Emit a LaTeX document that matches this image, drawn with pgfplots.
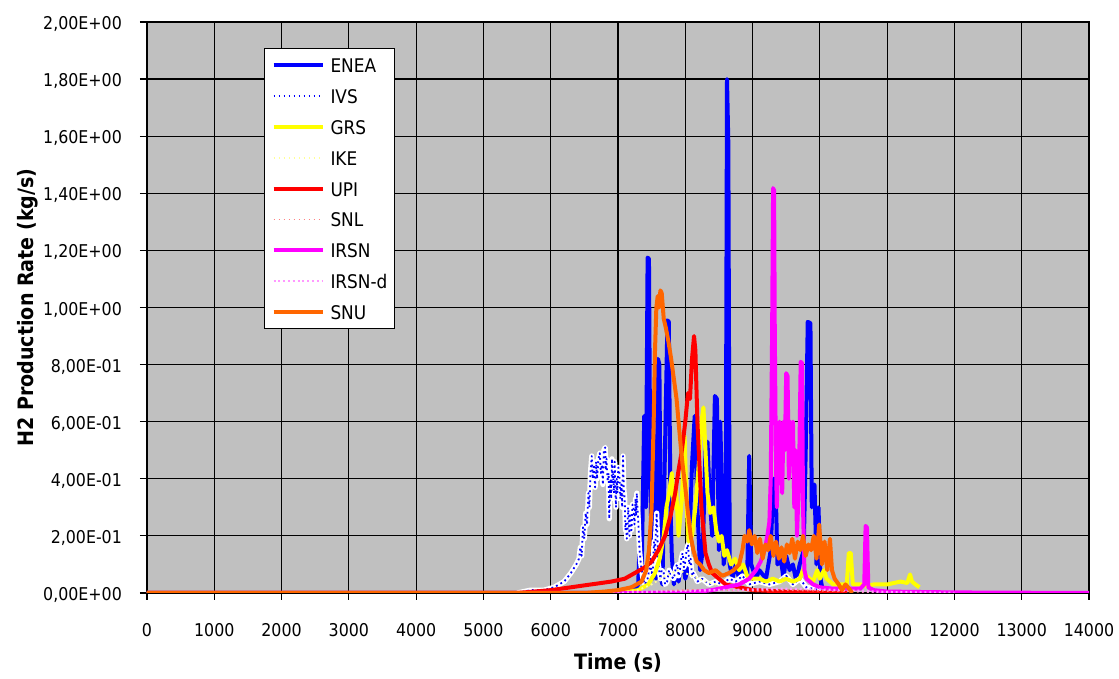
\documentclass[border=0pt]{standalone}
\usepackage{fontspec}
\setmainfont{DejaVu Sans Condensed}[BoldFont={DejaVu Sans Condensed Bold}]
\usepackage{pgfplots}
\pgfplotsset{compat=1.18}
\definecolor{plotbg}{RGB}{192,192,192}
\definecolor{cENEA}{RGB}{0,0,255}
\definecolor{cGRS}{RGB}{255,255,0}
\definecolor{cIKE}{RGB}{255,255,153}
\definecolor{cUPI}{RGB}{255,0,0}
\definecolor{cSNL}{RGB}{255,128,128}
\definecolor{cIRSN}{RGB}{255,0,255}
\definecolor{cIRSNd}{RGB}{255,153,255}
\definecolor{cSNU}{RGB}{255,102,0}
\pgfplotstableread{
t v
5500 0
5700 0.01
5900 0.01
6050 0.02
6200 0.04
6300 0.07
6380 0.1
6420 0.12
6440 0.16
6460 0.13
6480 0.23
6500 0.19
6520 0.28
6540 0.24
6560 0.35
6575 0.3
6590 0.42
6610 0.48
6625 0.4
6640 0.45
6660 0.37
6675 0.46
6690 0.4
6710 0.47
6730 0.49
6745 0.42
6760 0.45
6775 0.38
6790 0.5
6810 0.51
6820 0.43
6830 0.47
6845 0.39
6860 0.42
6870 0.26
6880 0.35
6890 0.4
6900 0.33
6910 0.47
6920 0.38
6930 0.42
6940 0.35
6950 0.46
6960 0.37
6970 0.3
6980 0.4
6990 0.35
7005 0.44
7020 0.42
7035 0.33
7050 0.38
7062 0.3
7075 0.48
7088 0.36
7100 0.33
7110 0.22
7120 0.25
7130 0.19
7140 0.2
7150 0.3
7160 0.27
7170 0.2
7180 0.28
7190 0.24
7200 0.22
7215 0.31
7230 0.3
7245 0.24
7260 0.33
7270 0.27
7280 0.35
7290 0.29
7300 0.26
7310 0.2
7320 0.15
7340 0.1
7370 0.05
7400 0.03
7440 0.05
7470 0.09
7480 0.12
7500 0.07
7520 0.08
7535 0.18
7550 0.15
7575 0.28
7590 0.17
7600 0.1
7630 0.05
7650 0.08
7680 0.07
7700 0.03
7730 0.04
7760 0.08
7780 0.06
7830 0.05
7860 0.09
7880 0.1
7900 0.06
7920 0.08
7940 0.12
7960 0.14
7980 0.09
8000 0.11
8020 0.15
8040 0.17
8060 0.1
8080 0.12
8100 0.06
8120 0.07
8180 0.04
8250 0.05
8350 0.03
8450 0.04
8550 0.03
8650 0.05
8750 0.04
8850 0.06
8950 0.03
9100 0.04
9250 0.03
9400 0.04
9500 0.06
9600 0.03
9700 0.05
9800 0.02
10000 0.01
10200 0
}\tblIVS
\begin{document}
\begin{tikzpicture}
\useasboundingbox (-73.5pt,-43pt) rectangle (486pt,296.5pt);
\begin{axis}[
  scale only axis, width=471pt, height=285.5pt,
  xmin=0, xmax=14000, ymin=0, ymax=2,
  axis background/.style={fill=plotbg},
  xtick={0,1000,...,14000},
  xticklabels={0,1000,2000,3000,4000,5000,6000,7000,8000,9000,10000,11000,12000,13000,14000},
  ytick={0,0.2,0.4,0.6,0.8,1.0,1.2,1.4,1.6,1.8,2.0},
  yticklabels={{0,00E+00},{2,00E-01},{4,00E-01},{6,00E-01},{8,00E-01},{1,00E+00},{1,20E+00},{1,40E+00},{1,60E+00},{1,80E+00},{2,00E+00}},
  tick pos=left, tick align=outside, major tick length=3.5pt,
  tick style={black, line width=0.6pt},
  grid=major, major grid style={black, line width=0.6pt},
  axis line style={black, line width=0.6pt},
  tick label style={font=\fontsize{8.8pt}{10.5pt}\selectfont},
  xticklabel style={anchor=base, inner sep=0pt, yshift=-18.25pt},
  yticklabel style={anchor=east, inner sep=0pt, xshift=-8.85pt, yshift=-1pt},
  xlabel={Time (s)}, ylabel={H2 Production Rate (kg/s)},
  label style={font=\bfseries\fontsize{10.6pt}{12pt}\selectfont},
  xlabel style={at={(axis description cs:0.5,-0.1226)}, anchor=center},
  ylabel style={at={(axis description cs:-0.1263,0.5)}, anchor=center, rotate=0},
  legend style={at={(0.1242,0.9545)}, anchor=north west, draw=black, line width=0.5pt, fill=white,
    font=\fontsize{9.4pt}{11pt}\selectfont, inner xsep=3.5pt, inner ysep=4.75pt,
    row sep=7.9pt,
    nodes={inner sep=0pt, text height=7.5pt, text depth=0pt},
    /tikz/every odd column/.append style={column sep=3pt}},
  legend cell align=left,
  legend image code/.code={\draw[#1, line cap=butt] (0pt,0pt) -- (24.5pt,0pt);},
  every axis plot/.append style={line join=round},
]
% ENEA
\addplot[cENEA, line width=2pt] coordinates {
(0,0) (7000,0) (7250,0.01) (7300,0.03) (7330,0.23) (7350,0.05) (7390,0.62) (7415,0.3) (7440,1.175) (7460,1.17) (7480,0.4) (7500,0.15) (7520,0.05) (7545,0.55) (7565,0.05) (7595,0.82) (7615,0.8) (7640,0.05) (7660,0.03) (7735,0.955) (7755,0.95) (7780,0.3) (7800,0.13) (7830,0.03) (7870,0.1) (7900,0.04) (7950,0.12) (8000,0.05) (8050,0.1) (8100,0.45) (8140,0.62) (8180,0.3) (8220,0.08) (8260,0.15) (8300,0.5) (8330,0.53) (8360,0.35) (8400,0.2) (8440,0.69) (8470,0.68) (8500,0.15) (8520,0.6) (8550,0.3) (8570,0.1) (8600,0.15) (8620,1.8) (8640,1.57) (8660,0.1) (8700,0.05) (8750,0.1) (8800,0.05) (8850,0.08) (8920,0.05) (8950,0.48) (8980,0.1) (9050,0.05) (9100,0.08) (9200,0.05) (9270,0.15) (9310,0.4) (9340,0.4) (9370,0.1) (9420,0.12) (9460,0.05) (9500,0.13) (9550,0.08) (9600,0.1) (9650,0.04) (9700,0.1) (9760,0.15) (9790,0.5) (9820,0.95) (9860,0.945) (9880,0.3) (9920,0.38) (9950,0.1) (9980,0.3) (10010,0.05) (10050,0) (10100,0)
};
\addlegendentry{ENEA}
% IVS white underlay
\addplot[white, line width=2.6pt, forget plot] table[x=t, y=v] {\tblIVS};
% IVS
\addplot[cENEA, line width=0.9pt, dash pattern=on 0.9pt off 1.6pt] table[x=t, y=v] {\tblIVS};
\addlegendentry{IVS}
% GRS
\addplot[cGRS, line width=2pt] coordinates {
(0,0) (7000,0) (7300,0.01) (7450,0.03) (7550,0.07) (7620,0.12) (7680,0.2) (7720,0.3) (7760,0.35) (7800,0.42) (7830,0.3) (7860,0.38) (7900,0.2) (7950,0.33) (7990,0.55) (8020,0.3) (8050,0.18) (8100,0.2) (8150,0.3) (8200,0.45) (8240,0.6) (8270,0.65) (8300,0.5) (8330,0.35) (8370,0.28) (8420,0.3) (8460,0.22) (8500,0.18) (8540,0.2) (8580,0.13) (8620,0.15) (8680,0.1) (8740,0.12) (8800,0.08) (8860,0.1) (8920,0.06) (9000,0.05) (9100,0.05) (9200,0.04) (9300,0.05) (9400,0.04) (9500,0.05) (9600,0.04) (9700,0.05) (9750,0.08) (9800,0.06) (9850,0.05) (9900,0.04) (9960,0.08) (10000,0.05) (10060,0.08) (10100,0.05) (10200,0.03) (10300,0.03) (10400,0.03) (10430,0.14) (10460,0.14) (10490,0.03) (10600,0.03) (10700,0.025) (10800,0.03) (10900,0.03) (11000,0.03) (11100,0.035) (11200,0.04) (11300,0.035) (11340,0.065) (11370,0.04) (11420,0.03) (11480,0.02)
};
\addlegendentry{GRS}
% IKE
\addplot[cIKE, line width=0.9pt, dash pattern=on 0.9pt off 1.6pt] coordinates {
(0,0) (7000,0) (7300,0.01) (7500,0.03) (7700,0.06) (7900,0.08) (8100,0.06) (8300,0.04) (8600,0.02) (9000,0.01) (9500,0.005) (10000,0)
};
\addlegendentry{IKE}
% UPI
\addplot[cUPI, line width=2pt] coordinates {
(0,0) (5500,0) (6000,0.01) (6300,0.02) (6600,0.03) (6900,0.04) (7100,0.05) (7250,0.07) (7400,0.09) (7500,0.11) (7600,0.15) (7700,0.2) (7780,0.27) (7850,0.35) (7900,0.43) (7950,0.5) (8000,0.6) (8040,0.7) (8070,0.68) (8100,0.82) (8130,0.9) (8150,0.85) (8180,0.6) (8210,0.45) (8240,0.3) (8270,0.22) (8300,0.14) (8350,0.1) (8400,0.07) (8500,0.05) (8600,0.03) (8800,0.02) (9000,0.01) (9500,0.005) (10000,0.003) (10400,0)
};
\addlegendentry{UPI}
% SNL
\addplot[cSNL, line width=0.9pt, dash pattern=on 0.9pt off 1.6pt] coordinates {
(0,0) (7000,0) (7500,0.005) (8000,0.01) (8500,0.01) (9000,0.008) (9500,0.01) (10000,0.008) (10500,0.005) (11000,0)
};
\addlegendentry{SNL}
% IRSN
\addplot[cIRSN, line width=2pt] coordinates {
(0,0) (8000,0) (8400,0.01) (8600,0.02) (8800,0.03) (8950,0.05) (9050,0.08) (9120,0.11) (9180,0.15) (9220,0.2) (9250,0.25) (9270,0.4) (9290,0.9) (9305,1.418) (9320,1.41) (9330,0.92) (9345,0.5) (9360,0.3) (9380,0.45) (9400,0.6) (9420,0.55) (9440,0.35) (9460,0.6) (9480,0.5) (9500,0.77) (9520,0.76) (9540,0.4) (9560,0.6) (9580,0.45) (9600,0.6) (9620,0.3) (9640,0.5) (9660,0.2) (9690,0.4) (9715,0.81) (9735,0.805) (9750,0.3) (9770,0.08) (9800,0.05) (9850,0.04) (9900,0.03) (10000,0.02) (10200,0.015) (10400,0.015) (10600,0.015) (10660,0.03) (10680,0.235) (10700,0.23) (10720,0.02) (10800,0.01) (11000,0.005) (12000,0.002) (14000,0)
};
\addlegendentry{IRSN}
% IRSN-d
\addplot[cIRSNd, line width=1.2pt, dash pattern=on 1pt off 1.4pt] coordinates {
(0,0) (7000,0) (7500,0.005) (8000,0.008) (8500,0.01) (9000,0.012) (9500,0.015) (10000,0.012) (10500,0.008) (11000,0.003) (12000,0)
};
\addlegendentry{IRSN-d}
% SNU
\addplot[cSNU, line width=2pt] coordinates {
(0,0) (6500,0) (6800,0.005) (7000,0.01) (7200,0.02) (7350,0.04) (7420,0.08) (7460,0.15) (7500,0.3) (7530,0.6) (7550,0.85) (7570,1.0) (7590,1.04) (7610,1.0) (7630,1.06) (7650,1.05) (7680,0.96) (7710,0.93) (7750,0.88) (7790,0.82) (7830,0.75) (7870,0.68) (7900,0.6) (7930,0.52) (7960,0.45) (8000,0.37) (8040,0.28) (8080,0.2) (8120,0.15) (8170,0.11) (8220,0.1) (8280,0.08) (8350,0.07) (8450,0.08) (8550,0.06) (8650,0.07) (8720,0.08) (8800,0.1) (8850,0.15) (8880,0.2) (8920,0.18) (8950,0.22) (8990,0.17) (9030,0.2) (9070,0.14) (9110,0.19) (9150,0.12) (9190,0.17) (9230,0.15) (9270,0.2) (9310,0.13) (9350,0.18) (9390,0.12) (9430,0.16) (9470,0.11) (9510,0.17) (9550,0.14) (9590,0.19) (9630,0.12) (9670,0.18) (9710,0.15) (9750,0.2) (9790,0.13) (9830,0.17) (9870,0.15) (9910,0.2) (9950,0.12) (9990,0.24) (10030,0.1) (10070,0.18) (10110,0.08) (10150,0.19) (10180,0.08) (10220,0.05) (10280,0.03) (10330,0.01) (10380,0.03) (10420,0.02) (10480,0)
};
\addlegendentry{SNU}
\end{axis}
\end{tikzpicture}
\end{document}
